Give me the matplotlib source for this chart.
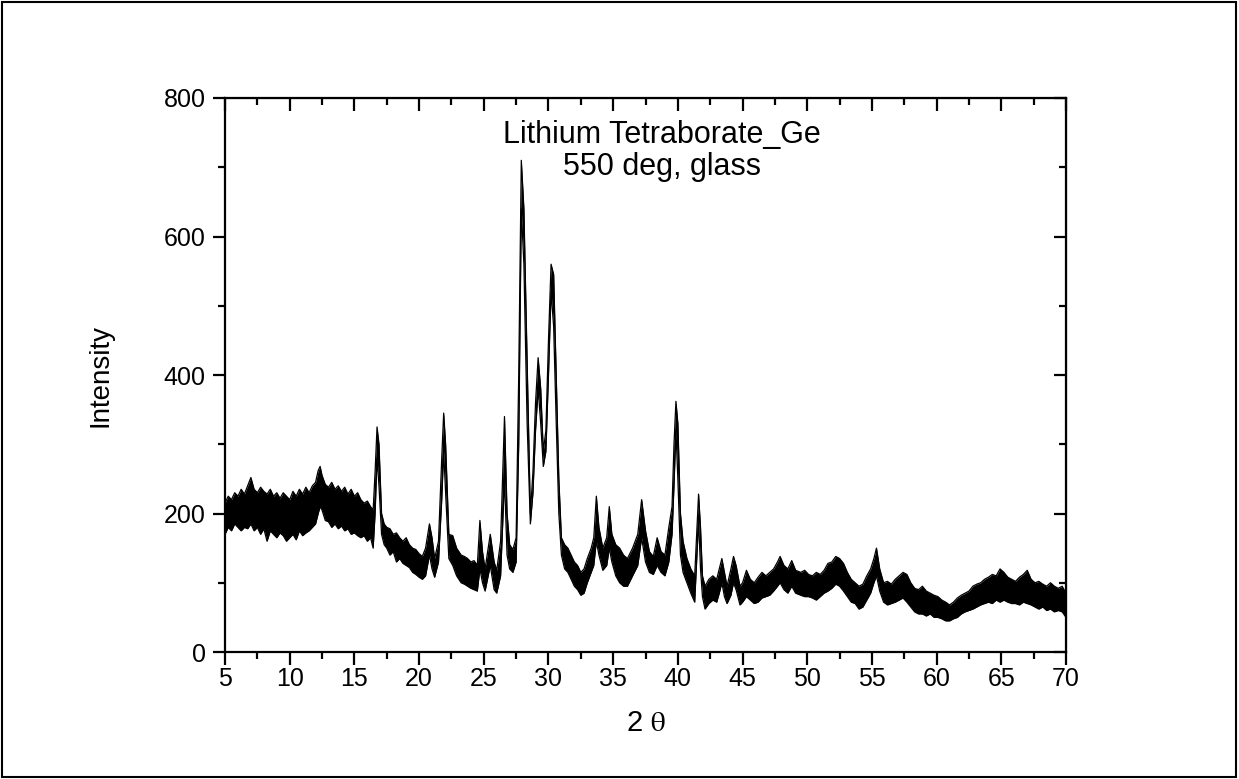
import matplotlib
matplotlib.use('Agg')
import matplotlib.pyplot as plt
from matplotlib.patches import Rectangle
from matplotlib.ticker import MultipleLocator

plt.rcParams['font.family'] = ['Liberation Sans', 'DejaVu Sans']
plt.rcParams['mathtext.fontset'] = 'stix'

# 2-theta positions with upper / lower edge of the noisy trace
two_theta = [5.0, 5.25, 5.5, 5.75, 6.0, 6.25, 6.5, 6.75, 7.0, 7.25, 7.5, 7.75, 8.0, 8.25, 8.5, 8.75,
             9.0, 9.25, 9.5, 9.75, 10.0, 10.25, 10.5, 10.75, 11.0, 11.25, 11.5, 11.75, 12.0, 12.2,
             12.35, 12.5, 12.75, 13.0, 13.25, 13.5, 13.75, 14.0, 14.25, 14.5, 14.75, 15.0, 15.25,
             15.5, 15.75, 16.0, 16.25, 16.45, 16.6, 16.75, 16.9, 17.1, 17.3, 17.5, 17.75, 18.0,
             18.25, 18.5, 18.75, 19.0, 19.25, 19.5, 19.75, 20.0, 20.25, 20.5, 20.8, 21.0, 21.2,
             21.5, 21.75, 21.9, 22.05, 22.3, 22.6, 22.9, 23.25, 23.5, 23.75, 24.0, 24.25, 24.5,
             24.7, 24.9, 25.1, 25.5, 25.8, 26.0, 26.3, 26.6, 26.8, 27.0, 27.25, 27.5, 27.7, 27.9,
             28.1, 28.35, 28.6, 28.8, 29.0, 29.2, 29.4, 29.6, 29.8, 30.0, 30.2, 30.4, 30.6, 30.8,
             31.0, 31.25, 31.5, 31.75, 32.0, 32.25, 32.5, 32.75, 33.0, 33.3, 33.5, 33.7, 33.9,
             34.2, 34.5, 34.7, 34.9, 35.2, 35.5, 35.8, 36.1, 36.5, 36.9, 37.2, 37.5, 37.8, 38.1,
             38.4, 38.7, 39.0, 39.3, 39.55, 39.7, 39.85, 40.0, 40.2, 40.4, 40.7, 41.0, 41.3, 41.5,
             41.6, 41.75, 41.9, 42.1, 42.4, 42.7, 43.0, 43.2, 43.4, 43.6, 43.8, 44.1, 44.3, 44.5,
             44.8, 45.0, 45.3, 45.6, 45.9, 46.2, 46.5, 46.8, 47.1, 47.4, 47.7, 47.9, 48.2, 48.5,
             48.8, 49.1, 49.5, 49.8, 50.1, 50.4, 50.7, 51.0, 51.3, 51.6, 51.9, 52.2, 52.5, 52.8,
             53.1, 53.4, 53.7, 54.0, 54.3, 54.6, 54.9, 55.15, 55.35, 55.6, 55.9, 56.2, 56.5, 56.8,
             57.1, 57.4, 57.7, 58.0, 58.3, 58.6, 58.9, 59.2, 59.5, 59.8, 60.1, 60.4, 60.7, 61.0,
             61.3, 61.6, 61.9, 62.2, 62.5, 62.8, 63.1, 63.4, 63.7, 64.0, 64.3, 64.6, 64.9, 65.2,
             65.5, 65.8, 66.1, 66.4, 66.7, 67.0, 67.3, 67.6, 67.9, 68.2, 68.5, 68.8, 69.1, 69.4,
             69.7, 70.0]

upper = [215, 225, 220, 230, 225, 235, 228, 240, 252, 235, 230, 238, 232, 228, 235, 225,
         230, 222, 230, 225, 220, 232, 225, 235, 228, 238, 230, 240, 245, 262,
         268, 255, 242, 238, 245, 235, 240, 232, 238, 228, 235, 225, 230,
         220, 215, 218, 210, 205, 260, 325, 300, 200, 185, 180, 178, 170,
         172, 165, 160, 165, 155, 150, 148, 142, 138, 150, 185, 165, 135,
         160, 280, 345, 300, 170, 168, 150, 140, 138, 135, 130, 132, 125,
         190, 145, 120, 170, 130, 118, 160, 340, 200, 155, 148, 165, 400, 710,
         640, 420, 200, 260, 360, 425, 380, 290, 320, 450, 560, 545, 400, 250,
         165, 155, 150, 140, 130, 125, 115, 120, 135, 150, 165, 225, 180,
         150, 165, 210, 170, 155, 150, 140, 135, 150, 170, 220, 175, 145, 138,
         165, 145, 140, 180, 210, 300, 362, 330, 200, 160, 135, 120, 110, 190,
         228, 180, 110, 95, 105, 110, 105, 120, 135, 115, 95, 120, 138, 125,
         95, 100, 118, 105, 100, 108, 115, 110, 115, 120, 130, 138, 125, 120,
         132, 118, 115, 118, 112, 110, 115, 112, 118, 128, 130, 138, 135, 128,
         115, 105, 100, 95, 98, 110, 120, 135, 150, 120, 100, 102, 98, 105,
         110, 115, 112, 100, 92, 90, 95, 88, 85, 82, 80, 75, 72, 68,
         72, 78, 82, 85, 88, 95, 98, 100, 105, 108, 112, 110, 120, 115,
         108, 105, 102, 108, 112, 118, 105, 100, 102, 98, 95, 100, 95, 92,
         95, 85]

lower = [170, 180, 175, 185, 180, 175, 180, 178, 185, 175, 180, 170, 178, 160, 175, 170,
         165, 172, 168, 160, 165, 170, 162, 175, 168, 172, 175, 180, 185, 200,
         210, 205, 190, 188, 180, 185, 178, 182, 175, 178, 170, 172, 168,
         165, 168, 160, 165, 150, 200, 280, 240, 170, 155, 150, 140, 145,
         130, 135, 128, 125, 122, 115, 112, 108, 105, 110, 140, 120, 108,
         130, 220, 290, 230, 135, 125, 110, 100, 98, 95, 92, 90, 88,
         120, 100, 88, 125, 90, 85, 110, 250, 140, 120, 115, 130, 300, 640,
         560, 330, 185, 230, 320, 380, 330, 268, 290, 400, 520, 470, 330, 200,
         140, 120, 115, 105, 95, 90, 82, 85, 100, 115, 125, 160, 140,
         118, 125, 150, 130, 110, 100, 95, 95, 110, 125, 165, 130, 115, 112,
         125, 115, 110, 130, 170, 240, 320, 250, 140, 115, 100, 85, 72, 150,
         190, 120, 80, 62, 70, 75, 72, 85, 100, 80, 70, 82, 100, 90,
         68, 72, 80, 75, 70, 72, 78, 80, 82, 88, 95, 100, 90, 85,
         95, 85, 82, 80, 80, 78, 75, 80, 85, 88, 92, 98, 95, 88,
         80, 72, 70, 62, 65, 75, 85, 100, 110, 88, 72, 68, 70, 72,
         75, 78, 72, 65, 58, 55, 55, 52, 55, 50, 50, 48, 45, 45,
         48, 50, 55, 58, 60, 62, 65, 68, 70, 72, 70, 75, 72, 75,
         72, 70, 70, 68, 72, 70, 68, 65, 62, 65, 60, 62, 58, 60,
         58, 50]

x_ticks = [5, 10, 15, 20, 25, 30, 35, 40, 45, 50, 55, 60, 65, 70]
y_ticks = [0, 200, 400, 600, 800]

fig = plt.figure(figsize=(12.39, 7.79), dpi=100)
fig.patches.append(Rectangle((0.0015, 0.003), 0.996, 0.994, transform=fig.transFigure,
                             fill=False, edgecolor='black', linewidth=1.5))

ax = fig.add_axes([0.1816, 0.163, 0.6788, 0.7112])
ax.fill_between(two_theta, lower, upper, color='black', linewidth=0)
ax.plot(two_theta, upper, color='black', linewidth=0.9)
ax.plot(two_theta, lower, color='black', linewidth=0.9)

ax.set_xlim(5, 70)
ax.set_ylim(0, 800)
ax.set_xticks(x_ticks)
ax.set_yticks(y_ticks)
ax.xaxis.set_minor_locator(MultipleLocator(2.5))
ax.yaxis.set_minor_locator(MultipleLocator(100))
for s in ax.spines.values():
    s.set_linewidth(1.6)
ax.tick_params(which='major', direction='out', length=9, width=1.6, labelsize=18)
ax.tick_params(which='minor', direction='out', length=5, width=1.6)
ax.tick_params(axis='x', which='major', pad=2)
ax.tick_params(axis='y', which='major', pad=5)

# top and right: inward ticks, no labels
top = ax.secondary_xaxis('top')
top.set_xticks(x_ticks)
top.xaxis.set_minor_locator(MultipleLocator(2.5))
top.tick_params(which='major', direction='in', length=9, width=1.6, labeltop=False)
top.tick_params(which='minor', direction='in', length=5, width=1.6)
right = ax.secondary_yaxis('right')
right.set_yticks(y_ticks)
right.yaxis.set_minor_locator(MultipleLocator(100))
right.tick_params(which='major', direction='in', length=9, width=1.6, labelright=False)
right.tick_params(which='minor', direction='in', length=5, width=1.6)

ax.set_xlabel(r'2 $\mathrm{\theta}$', fontsize=21, labelpad=13)
ax.set_ylabel('Intensity', fontsize=20, labelpad=36)

ax.text(0.52, 0.96, 'Lithium Tetraborate_Ge\n550 deg, glass', transform=ax.transAxes,
        ha='center', va='top', fontsize=22, linespacing=1.1)

fig.savefig('out.png', dpi=100)
